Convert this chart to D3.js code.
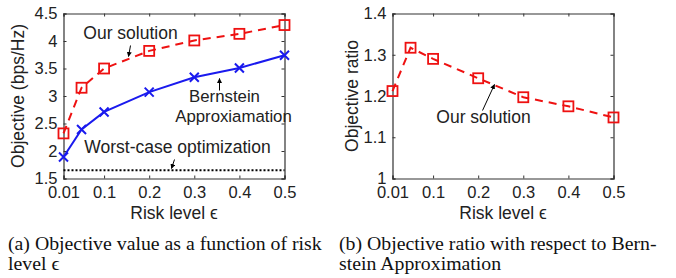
<!DOCTYPE html>
<html>
<head>
<meta charset="utf-8">
<script src="https://cdn.jsdelivr.net/npm/d3@7"></script>
<style>
  body { margin: 0; background: #fff; }
  svg text { font-family: "Liberation Sans", Arial, sans-serif; fill: #222; }
  .caption { font-family: "Liberation Serif", "DejaVu Serif", serif; font-size: 19.8px; fill: #111; }
  .axis path, .axis line { stroke: #333; }
</style>
</head>
<body>
<svg id="chart" width="676" height="278"></svg>
<script>
// risk levels
const risk = [0.01, 0.05, 0.1, 0.2, 0.3, 0.4, 0.5];
const xTicks = [0.01, 0.1, 0.2, 0.3, 0.4, 0.5];

// (a) objective values
const ourSolution = [2.32, 3.15, 3.50, 3.82, 4.01, 4.13, 4.29];
const bernstein   = [1.89, 2.39, 2.71, 3.07, 3.34, 3.51, 3.74];
const worstCase   = 1.65;
const yTicksA = [1.5, 2, 2.5, 3, 3.5, 4, 4.5];

// (b) objective ratio
const ratio = [1.212, 1.317, 1.290, 1.243, 1.197, 1.175, 1.148];
const yTicksB = [1, 1.1, 1.2, 1.3, 1.4];

const svg = d3.select('#chart');

svg.append('defs').append('marker')
    .attr('id', 'arrow')
    .attr('viewBox', '0 0 10 10')
    .attr('refX', 9).attr('refY', 5)
    .attr('markerWidth', 5).attr('markerHeight', 5)
    .attr('orient', 'auto')
  .append('path')
    .attr('d', 'M0,0 L10,5 L0,10 z')
    .attr('fill', '#000');

function panel(left, titleX, yDomain, yTicks, yTitle){
    const top = 13.5, w = 221, h = 165;
    const g = svg.append('g').attr('transform', `translate(${left},${top})`);
    const x = d3.scaleLinear().domain([0.01, 0.5]).range([0, w]);
    const y = d3.scaleLinear().domain(yDomain).range([h, 0]);

    const fmt = d => String(d);
    // ticks point inward, mirrored on all four sides
    g.append('g').attr('class', 'axis').attr('transform', `translate(0,${h})`)
        .call(d3.axisBottom(x).tickValues(xTicks).tickSize(-3).tickPadding(8).tickFormat(fmt));
    g.append('g').attr('class', 'axis')
        .call(d3.axisTop(x).tickValues(xTicks).tickSize(-3).tickFormat(''));
    g.append('g').attr('class', 'axis')
        .call(d3.axisLeft(y).tickValues(yTicks).tickSize(-3).tickPadding(6).tickFormat(fmt));
    g.append('g').attr('class', 'axis').attr('transform', `translate(${w},0)`)
        .call(d3.axisRight(y).tickValues(yTicks).tickSize(-3).tickFormat(''));
    g.selectAll('.axis path').attr('stroke-width', 1.2);
    g.selectAll('.axis text').style('font-size', '16.5px').attr('fill', '#222');

    g.append('text')
        .attr('x', w / 2).attr('y', h + 40)
        .attr('text-anchor', 'middle')
        .style('font-size', '17.5px')
        .text('Risk level ϵ');
    g.append('text')
        .attr('transform', `translate(${titleX - left + 6},${h / 2}) rotate(-90)`)
        .attr('text-anchor', 'middle')
        .style('font-size', '17.5px')
        .text(yTitle);
    return {g, x, y};
}

function squares(g, x, y, vals){
    const line = d3.line().x((d, i) => x(risk[i])).y(d => y(d));
    g.append('path').datum(vals)
        .attr('d', line)
        .attr('fill', 'none')
        .attr('stroke', '#ee1111')
        .attr('stroke-width', 2)
        .attr('stroke-dasharray', '8,6');
    g.selectAll(null).data(vals).enter().append('rect')
        .attr('x', (d, i) => x(risk[i]) - 5)
        .attr('y', d => y(d) - 5)
        .attr('width', 10).attr('height', 10)
        .attr('fill', 'none')
        .attr('stroke', '#ee1111')
        .attr('stroke-width', 1.8);
}

function note(g, txt, cx, cy, size){
    g.append('text').attr('x', cx).attr('y', cy)
        .attr('text-anchor', 'middle')
        .style('font-size', (size || 17.5) + 'px')
        .attr('fill', '#111')
        .text(txt);
}

function arrow(g, x1, y1, x2, y2){
    g.append('line')
        .attr('x1', x1).attr('y1', y1).attr('x2', x2).attr('y2', y2)
        .attr('stroke', '#000').attr('stroke-width', 1)
        .attr('marker-end', 'url(#arrow)');
}

// ---- (a) ----
const A = panel(63.5, 18, [1.5, 4.5], yTicksA, 'Objective (bps/Hz)');
A.g.append('line')
    .attr('x1', A.x(0.01)).attr('x2', A.x(0.5))
    .attr('y1', A.y(worstCase)).attr('y2', A.y(worstCase))
    .attr('stroke', '#000').attr('stroke-width', 2)
    .attr('stroke-dasharray', '2,2');
const blueLine = d3.line().x((d, i) => A.x(risk[i])).y(d => A.y(d));
A.g.append('path').datum(bernstein)
    .attr('d', blueLine)
    .attr('fill', 'none')
    .attr('stroke', '#1a1aee')
    .attr('stroke-width', 2);
A.g.selectAll(null).data(bernstein).enter().append('path')
    .attr('d', (d, i) => {
        const cx = A.x(risk[i]), cy = A.y(d), r = 4.5;
        return `M${cx - r},${cy - r}L${cx + r},${cy + r}M${cx - r},${cy + r}L${cx + r},${cy - r}`;
    })
    .attr('stroke', '#1a1aee')
    .attr('stroke-width', 2);
squares(A.g, A.x, A.y, ourSolution);

note(A.g, 'Our solution', 67, 25);
arrow(A.g, 67, 32, 65, 43);
note(A.g, 'Bernstein', 161, 88.5, 16.8);
note(A.g, 'Approxiamation', 170, 108, 16.8);
arrow(A.g, 156, 77, 156, 65);
note(A.g, 'Worst-case optimization', 114, 139);
arrow(A.g, 111, 146, 108, 155);

// ---- (b) ----
const B = panel(392.5, 352, [1, 1.4], yTicksB, 'Objective ratio');
squares(B.g, B.x, B.y, ratio);
note(B.g, 'Our solution', 91, 109);
arrow(B.g, 90, 97, 102, 71);

// captions
const cap = svg.append('g');
cap.append('text').attr('class', 'caption').attr('x', 8).attr('y', 250).text('(a)  Objective value as a function of risk');
cap.append('text').attr('class', 'caption').attr('x', 8).attr('y', 270).text('level ϵ');
cap.append('text').attr('class', 'caption').attr('x', 339).attr('y', 250).text('(b)  Objective ratio with respect to Bern-');
cap.append('text').attr('class', 'caption').attr('x', 339).attr('y', 270).text('stein Approximation');
</script>
</body>
</html>
